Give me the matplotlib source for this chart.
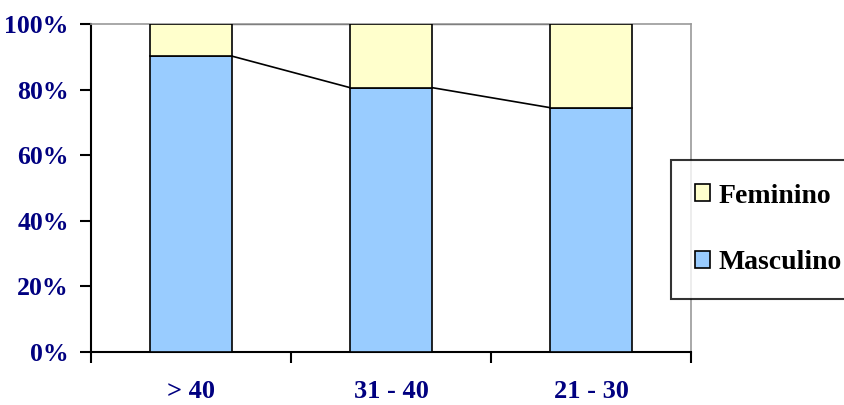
import matplotlib.pyplot as plt
import numpy as np

# dados
categorias = ['> 40', '31 - 40', '21 - 30']
masculino = [90.2, 80.6, 74.5]
feminino = [100 - v for v in masculino]

plt.rcParams['font.family'] = ['Liberation Serif', 'DejaVu Serif']
plt.rcParams['font.weight'] = 'bold'

fig = plt.figure(figsize=(8.45, 4.05), dpi=100)
ax = fig.add_axes([91 / 845, 53 / 405, 600 / 845, 328 / 405])

x = np.arange(len(categorias))
w = 0.41
ax.bar(x, masculino, w, color='#99ccff', edgecolor='black', linewidth=1.2,
       label='Masculino', zorder=3)
ax.bar(x, feminino, w, bottom=masculino, color='#ffffcc', edgecolor='black',
       linewidth=1.2, label='Feminino', zorder=3)

# linhas de série
topo = [m + f for m, f in zip(masculino, feminino)]
for i in range(len(x) - 1):
    ax.plot([x[i] + w / 2, x[i + 1] - w / 2], [masculino[i], masculino[i + 1]],
            color='black', linewidth=1.2, zorder=2)
    ax.plot([x[i] + w / 2, x[i + 1] - w / 2], [topo[i], topo[i + 1]],
            color='black', linewidth=1.6, zorder=2)

ax.set_xlim(-0.5, 2.5)
ax.set_ylim(0, 100)
ax.set_yticks(np.arange(0, 101, 20))
ax.set_yticklabels([f'{v}%' for v in range(0, 101, 20)])
ax.set_xticks([-0.5, 0.5, 1.5, 2.5])
ax.set_xticklabels([])
ax.set_xticks(x, minor=True)
ax.set_xticklabels(categorias, minor=True)
ax.tick_params(axis='x', which='minor', length=0, pad=20,
               labelsize=19, labelcolor='#000080')
ax.tick_params(axis='x', which='major', length=8, width=1.5, direction='out')
ax.tick_params(axis='y', length=8, width=1.5, direction='out', pad=8,
               labelsize=18.5, labelcolor='#000080')

for s in ['left', 'bottom']:
    ax.spines[s].set_linewidth(1.5)
    ax.spines[s].set_color('black')
for s in ['top', 'right']:
    ax.spines[s].set_linewidth(1.2)
    ax.spines[s].set_color('#999999')

h, l = ax.get_legend_handles_labels()
leg = fig.legend(h[::-1], l[::-1], loc='upper left',
                 bbox_to_anchor=(671 / 845, 1 - 160 / 405),
                 fontsize=20, frameon=True, fancybox=False, edgecolor='black',
                 handlelength=0.55, handleheight=0.55, handletextpad=0.3,
                 labelspacing=1.5, borderpad=0.85, borderaxespad=0)
leg.get_frame().set_linewidth(1.5)

fig.savefig('out.png', dpi=100)
